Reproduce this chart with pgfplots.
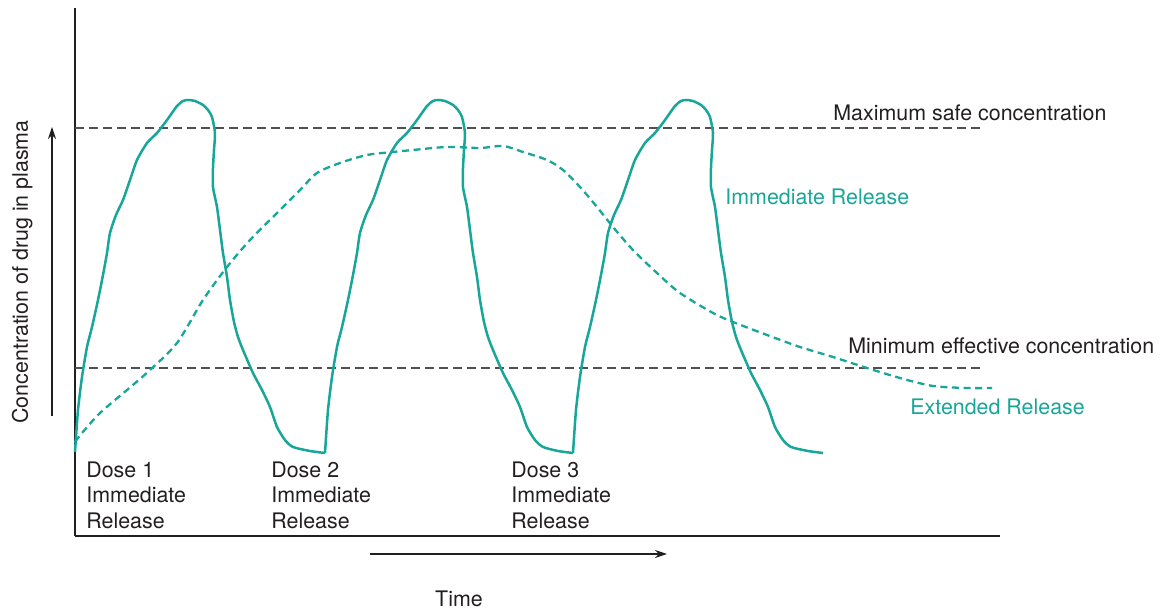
\documentclass[border=0pt]{standalone}
\usepackage{pgfplots}
\pgfplotsset{compat=1.18}
\usepackage{fontspec}
\setmainfont{TeX Gyre Heros}
\usetikzlibrary{arrows.meta}
\definecolor{teal1}{RGB}{23,166,152}
\definecolor{txt}{RGB}{35,31,32}
\definecolor{refgray}{RGB}{80,80,80}
\begin{document}
\begin{tikzpicture}
\path[use as bounding box] (-37.5pt,-36.5pt) rectangle (543.5pt,268pt);
\begin{axis}[
  at={(0,0)}, anchor=south west,
  width=462.5pt, height=264pt, scale only axis,
  xmin=0, xmax=925, ymin=0, ymax=528,
  axis x line=bottom, axis y line=left,
  axis line style={-, draw=txt, line width=0.7pt},
  ticks=none,
  clip=false,
  font=\fontsize{10.7}{12.75}\selectfont,
]
% reference lines
\addplot[refgray, line width=0.65pt, dash pattern=on 4.5pt off 2.5pt] coordinates {(0,408) (905,408)};
\addplot[refgray, line width=0.65pt, dash pattern=on 4.5pt off 2.5pt] coordinates {(0,168) (905,168)};
% extended release
\addplot[teal1, line width=1.15pt, dash pattern=on 3.5pt off 2.3pt, smooth, tension=0.5] coordinates {
(0,94) (7,103) (25,123) (52,146) (75,166) (102,193) (128,236) (152,269) (175,296)
(202,323) (225,346) (242,363) (265,373) (292,381) (318,384) (338,386) (372,389)
(405,388) (428,390) (448,384) (472,376) (488,366) (505,349) (522,329) (538,309)
(558,286) (582,263) (605,243) (638,223) (658,214) (692,201) (725,189) (758,179)
(792,168) (825,158) (858,150) (892,148) (917,148)};
% immediate release, dose 1
\addplot[teal1, line width=1.25pt, smooth, tension=0.4, line join=round] coordinates {
(0,84) (3,126) (7,159) (12,189) (17,209) (23,236) (28,261) (32,283) (35,303) (41,321)
(48,336) (55,356) (62,376) (72,393) (82,403) (92,416) (102,430) (108,435) (113,436)
(120,435) (128,431) (133,426) (137,419) (140,403) (139,386) (138,368) (138,349)
(142,329) (145,306) (148,283) (152,259) (155,236) (159,214) (163,199) (168,186)
(178,163) (187,146) (195,129) (202,109) (210,96) (218,89) (235,85) (250,83)};
% dose 2
\addplot[teal1, line width=1.25pt, smooth, tension=0.4, line join=round] coordinates {
(250,83) (253,126) (257,159) (262,189) (267,209) (273,236) (278,261) (282,283) (285,303) (291,321)
(298,336) (305,356) (312,376) (322,393) (332,403) (342,416) (352,430) (358,435) (363,436)
(370,435) (378,431) (383,426) (387,419) (390,403) (389,386) (388,368) (388,349)
(392,329) (395,306) (398,283) (402,259) (405,236) (409,214) (413,199) (418,186)
(428,163) (437,146) (445,129) (452,109) (460,96) (468,89) (483,85) (498,83)};
% dose 3
\addplot[teal1, line width=1.25pt, smooth, tension=0.4, line join=round] coordinates {
(498,83) (501,126) (505,159) (510,189) (515,209) (521,236) (526,261) (530,283) (533,303) (539,321)
(546,336) (553,356) (560,376) (570,393) (580,403) (590,416) (600,430) (606,435) (611,436)
(618,435) (626,431) (631,426) (635,419) (638,403) (637,386) (636,368) (636,349)
(640,329) (643,306) (646,283) (650,259) (653,236) (657,214) (661,199) (666,186)
(676,163) (685,146) (693,129) (700,109) (708,96) (716,89) (733,85) (748,83)};
% annotations
\draw[txt, line width=0.6pt, -{Stealth[length=6pt,width=4pt]}] (axis cs:-23,120) -- (axis cs:-23,409);
\draw[txt, line width=0.6pt, -{Stealth[length=6pt,width=4pt]}] (axis cs:295,-18) -- (axis cs:592,-18);
\node[txt, rotate=90, anchor=base, inner sep=0pt] at (axis cs:-47,264) {Concentration of drug in plasma};
\node[txt, anchor=base, inner sep=0pt] at (axis cs:384,-71) {Time};
\node[txt, anchor=base west, inner sep=0pt] at (axis cs:758,415) {Maximum safe concentration};
\node[txt, anchor=base west, inner sep=0pt] at (axis cs:773,182) {Minimum effective concentration};
\node[teal1, anchor=base west, inner sep=0pt] at (axis cs:650,331) {Immediate Release};
\node[teal1, anchor=base west, inner sep=0pt] at (axis cs:835,121) {Extended Release};
\node[txt, anchor=base west, inner sep=0pt] at (axis cs:11,58) {Dose 1};
\node[txt, anchor=base west, inner sep=0pt] at (axis cs:11,33) {Immediate};
\node[txt, anchor=base west, inner sep=0pt] at (axis cs:11,7) {Release};
\node[txt, anchor=base west, inner sep=0pt] at (axis cs:196,58) {Dose 2};
\node[txt, anchor=base west, inner sep=0pt] at (axis cs:196,33) {Immediate};
\node[txt, anchor=base west, inner sep=0pt] at (axis cs:196,7) {Release};
\node[txt, anchor=base west, inner sep=0pt] at (axis cs:436,58) {Dose 3};
\node[txt, anchor=base west, inner sep=0pt] at (axis cs:436,33) {Immediate};
\node[txt, anchor=base west, inner sep=0pt] at (axis cs:436,7) {Release};
\end{axis}
\end{tikzpicture}
\end{document}
